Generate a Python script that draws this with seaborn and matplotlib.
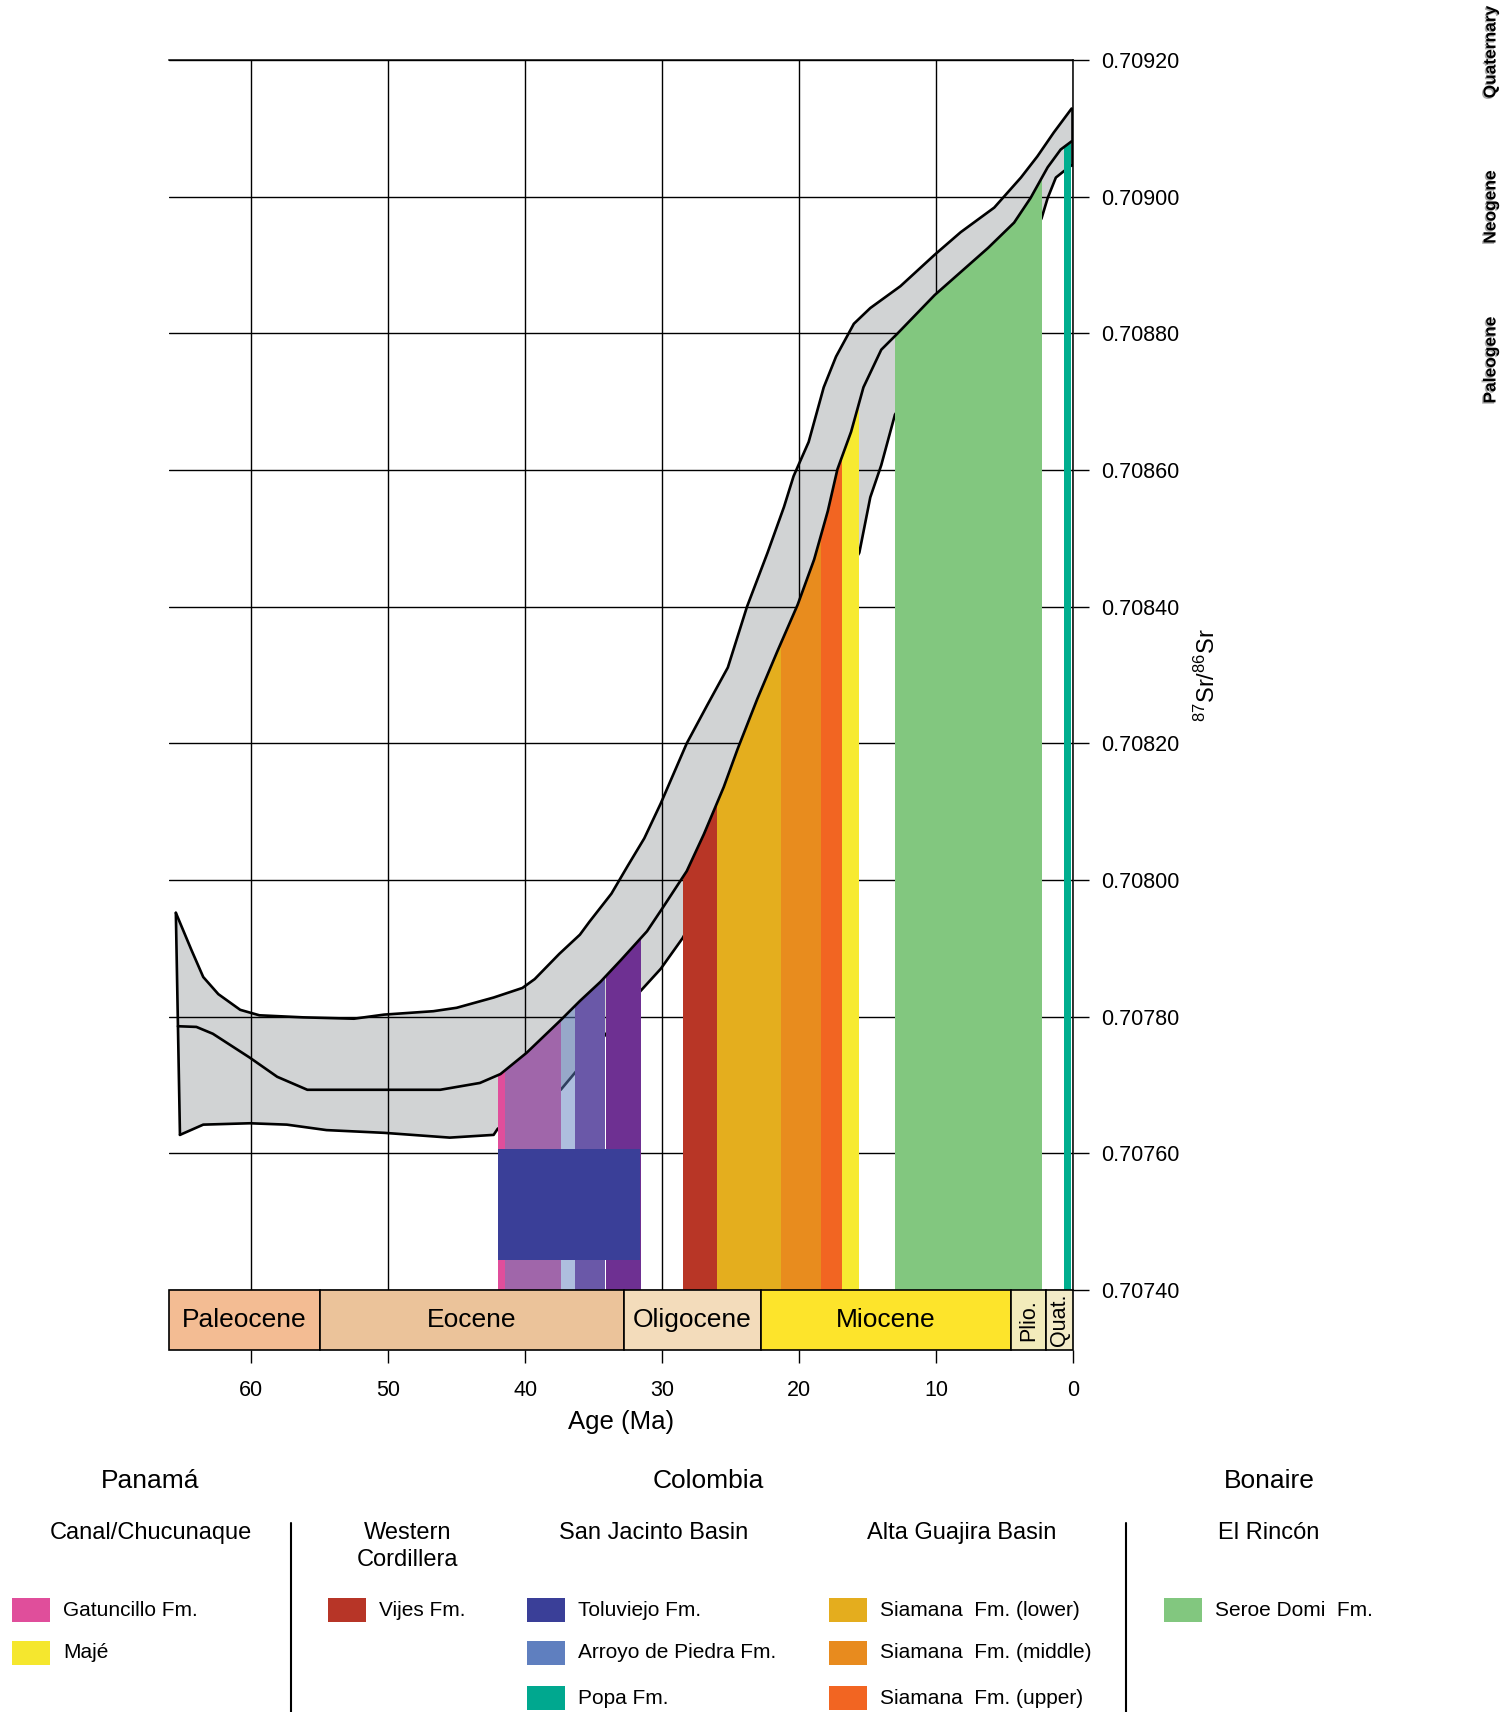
import numpy as np
import matplotlib
matplotlib.use("Agg")
import matplotlib.pyplot as plt
import matplotlib.patheffects as pe
from matplotlib.patches import Polygon, Rectangle
from matplotlib.lines import Line2D
import seaborn as sns

# ---------------------------------------------------------------
# Seawater 87Sr/86Sr envelope through the Cenozoic (age in Ma)
# ---------------------------------------------------------------
upper_age = [65.5, 64.35, 63.5, 62.4, 60.8, 59.4, 56.2, 52.5, 50.3, 46.7, 45.0,
             42.3, 40.2, 39.3, 37.5, 36.0, 35.3, 33.7, 32.5, 31.3, 30.1, 28.2,
             26.7, 25.2, 23.8, 22.3, 21.1, 20.4, 19.3, 18.2, 17.3, 16.0, 14.8,
             12.6, 10.1, 8.2, 5.75, 3.8, 2.6, 1.4, 0.1]
upper_sr = [0.707952, 0.707897, 0.707858, 0.707833, 0.707810, 0.707802, 0.707799,
            0.707797, 0.707803, 0.707808, 0.707813, 0.707828, 0.707842, 0.707855,
            0.707892, 0.707920, 0.707939, 0.707980, 0.708021, 0.708061, 0.708112,
            0.708200, 0.708256, 0.708311, 0.708400, 0.708479, 0.708546, 0.708591,
            0.708641, 0.708721, 0.708766, 0.708814, 0.708837, 0.708869, 0.708915,
            0.708948, 0.708984, 0.709028, 0.709059, 0.709094, 0.709129]

mid_age = [65.35, 64.0, 62.8, 60.1, 58.1, 55.9, 50.3, 46.2, 43.3, 41.8, 39.9,
           37.4, 36.0, 34.5, 33.0, 31.1, 29.9, 28.2, 26.95, 25.5, 24.5, 23.05,
           21.6, 20.1, 18.9, 17.9, 17.2, 16.2, 15.3, 14.0, 12.8, 10.1, 6.2, 4.3,
           3.1, 1.85, 0.9, 0.1]
mid_sr = [0.707786, 0.707785, 0.707775, 0.707740, 0.707712, 0.707693, 0.707693,
          0.707693, 0.707703, 0.707716, 0.707747, 0.707795, 0.707823, 0.707851,
          0.707883, 0.707925, 0.707961, 0.708013, 0.708067, 0.708136, 0.708191,
          0.708265, 0.708334, 0.708403, 0.708469, 0.708540, 0.708601, 0.708656,
          0.708721, 0.708776, 0.708800, 0.708856, 0.708925, 0.708962, 0.708998,
          0.709043, 0.709069, 0.709081]

lower_age = [65.2, 63.5, 60.1, 57.4, 54.5, 50.3, 45.5, 42.3, 42.0, 37.4, 36.4,
             31.6, 30.1, 28.5, 27.0, 25.0, 23.0, 21.0, 19.0, 17.0, 15.6, 14.8,
             14.0, 13.0, 11.0, 9.0, 7.0, 5.0, 3.5, 2.3, 1.85, 1.25, 0.75, 0.1]
lower_sr = [0.707627, 0.707642, 0.707644, 0.707642, 0.707634, 0.707630, 0.707623,
            0.707627, 0.707636, 0.707693, 0.707717, 0.707837, 0.707870, 0.707915,
            0.707970, 0.708040, 0.708140, 0.708240, 0.708340, 0.708430, 0.708479,
            0.708560, 0.708607, 0.708681, 0.708740, 0.708790, 0.708840, 0.708890,
            0.708930, 0.708968, 0.708998, 0.709028, 0.709036, 0.709046]

# ---------------------------------------------------------------
# Formation age ranges (old, young in Ma) projected onto the curve
# ---------------------------------------------------------------
unit_names = ["Gatuncillo", "Gatuncillo/Toluviejo", "Arroyo de Piedra",
              "Arroyo de Piedra/Toluviejo", "Toluviejo (upper)", "Vijes",
              "Siamana lower", "Siamana middle", "Siamana upper", "Majé",
              "Seroe Domi", "Popa"]
unit_old = [42.0, 41.5, 37.4, 36.37, 34.1, 28.5, 26.0, 21.3, 18.4, 16.9, 13.0, 0.69]
unit_young = [41.5, 37.4, 36.37, 34.2, 31.55, 26.0, 21.3, 18.4, 16.9, 15.6, 2.23, 0.11]
unit_colors = ["#E04E9B", "#A066AA", "#5F7FBF", "#6A58A8", "#6E3092", "#B83626",
               "#E4AE1E", "#E88C1E", "#F26522", "#F7EA31", "#82C77F", "#00AE8F"]
unit_alpha = [1, 1, 0.5, 1, 1, 1, 1, 1, 1, 1, 1, 1]

# Toluviejo Fm. measured range (age x Sr ratio)
toluviejo_age = [41.96, 31.58]
toluviejo_sr = [0.707444, 0.707606]

# Geological time scale
epoch_names = ["Paleocene", "Eocene", "Oligocene", "Miocene", "Plio.", "Quat."]
epoch_old = [66.0, 55.0, 32.8, 22.8, 4.5, 2.0]
epoch_young = [55.0, 32.8, 22.8, 4.5, 2.0, 0.0]
epoch_colors = ["#F3BC93", "#EBC39A", "#F3DCBB", "#FDE42B", "#F2EBBB", "#F3EBC8"]
epoch_rot = [0, 0, 0, 0, 90, 90]

period_names = ["Quaternary", "Neogene", "Paleogene"]
period_y = [52, 207, 360]

sr_ticks = [0.70740, 0.70760, 0.70780, 0.70800, 0.70820, 0.70840,
            0.70860, 0.70880, 0.70900, 0.70920]
age_ticks = [60, 50, 40, 30, 20, 10, 0]

# Legend content
region_titles = ["Panamá", "Colombia", "Bonaire"]
region_x = [150, 708, 1269]
basin_titles = [["Canal/Chucunaque"], ["Western", "Cordillera"], ["San Jacinto Basin"],
                ["Alta Guajira Basin"], ["El Rincón"]]
basin_x = [151, 408, 654, 962, 1269]
legend_cols = [
    [("Gatuncillo Fm.", "#E04E9B"), ("Majé", "#F5E72E")],
    [("Vijes Fm.", "#B73527")],
    [("Toluviejo Fm.", "#3A3F98"), ("Arroyo de Piedra Fm.", "#5F7FBF"), ("Popa Fm.", "#00A88F")],
    [("Siamana  Fm. (lower)", "#E4AD1E"), ("Siamana  Fm. (middle)", "#E88B1E"),
     ("Siamana  Fm. (upper)", "#F26522")],
    [("Seroe Domi  Fm.", "#82C77F")],
]
legend_col_x = [12, 328, 527, 829, 1164]
legend_row_y = [1610, 1653, 1698]
separator_x = [290.5, 1126]

# ---------------------------------------------------------------
sns.set_theme(style="white")
plt.rcParams["font.family"] = ["Liberation Sans", "DejaVu Sans"]
plt.rcParams["mathtext.default"] = "regular"
for k in ["text.color", "axes.labelcolor", "xtick.color", "ytick.color", "axes.edgecolor"]:
    plt.rcParams[k] = "black"

W, H = 1508, 1712
fig = plt.figure(figsize=(W / 100, H / 100), dpi=100, facecolor="white")


def fx(px):
    return px / W


def fy(py):
    return 1 - py / H


ax = fig.add_axes([fx(169), fy(1290), fx(1073) - fx(169), fy(60) - fy(1290)])
ax_ep = fig.add_axes([fx(169), fy(1350), fx(1073) - fx(169), fy(1290) - fy(1350)], sharex=ax)

ax.set_xlim(66, 0)
ax.set_ylim(sr_ticks[0], sr_ticks[-1])

# grey envelope between upper and lower bounds
env_x = upper_age + lower_age[::-1]
env_y = upper_sr + lower_sr[::-1]
ax.fill(env_x, env_y, color="#D1D3D4", lw=0, zorder=1)

line_kw = dict(color="black", linewidth=1.9, sort=False, estimator=None, ax=ax)
sns.lineplot(x=lower_age, y=lower_sr, zorder=1.6, **line_kw)
ax.plot([upper_age[0], lower_age[0]], [upper_sr[0], lower_sr[0]], color="black", lw=1.9, zorder=1.6)

# formation bars under the central curve
clip_poly = Polygon(np.column_stack([mid_age + [mid_age[-1], mid_age[0]],
                                     mid_sr + [sr_ticks[0], sr_ticks[0]]]),
                    closed=True, transform=ax.transData)
base = sr_ticks[0]
span = sr_ticks[-1] - sr_ticks[0]
for old, young, col, a in zip(unit_old, unit_young, unit_colors, unit_alpha):
    bars = ax.bar(x=(old + young) / 2, height=span, width=old - young, bottom=base,
                  color=col, alpha=a, linewidth=0, zorder=2)
    for p in bars.patches:
        p.set_clip_path(clip_poly)

ax.bar(x=np.mean(toluviejo_age), height=toluviejo_sr[1] - toluviejo_sr[0],
       width=toluviejo_age[0] - toluviejo_age[1], bottom=toluviejo_sr[0],
       color="#3A3F98", linewidth=0, zorder=2.2)

sns.lineplot(x=mid_age, y=mid_sr, zorder=3, **line_kw)
sns.lineplot(x=upper_age, y=upper_sr, zorder=3, **line_kw)
ax.plot([upper_age[-1], lower_age[-1]], [upper_sr[-1], lower_sr[-1]], color="black", lw=1.9, zorder=3)

# grid, ticks and spines
ax.set_yticks(sr_ticks)
ax.set_yticklabels([f"{v:.5f}" for v in sr_ticks])
ax.set_xticks(age_ticks)
ax.grid(True, color="black", linewidth=1.0)
ax.set_axisbelow("line")
ax.yaxis.tick_right()
ax.tick_params(axis="y", right=True, left=False, direction="out", length=11.5,
               width=1.0, pad=9, labelsize=15.5)
ax.tick_params(axis="x", bottom=False, labelbottom=False, top=False)
for s in ["left", "bottom"]:
    ax.spines[s].set_visible(False)
for s in ["top", "right"]:
    ax.spines[s].set_color("black")
    ax.spines[s].set_linewidth(1.1)
ax.set_xlabel("")
ax.set_ylabel("")

# epoch strip
ax_ep.set_ylim(0, 1)
for name, old, young, col, rot in zip(epoch_names, epoch_old, epoch_young, epoch_colors, epoch_rot):
    ax_ep.bar(x=(old + young) / 2, height=1, width=old - young, bottom=0, color=col,
              edgecolor="black", linewidth=1.2, clip_on=False)
    ax_ep.text((old + young) / 2, 0.5, name, ha="center", va="center",
               rotation=rot, fontsize=19 if rot == 0 else 15.5)
for s in ax_ep.spines.values():
    s.set_visible(False)
ax_ep.set_yticks([])
ax_ep.set_xticks(age_ticks)
ax_ep.set_xticklabels([str(a) for a in age_ticks])
ax_ep.tick_params(axis="x", bottom=True, direction="out", length=9.5, width=1.0,
                  pad=12, labelsize=15.5)
ax_ep.set_facecolor("none")

fig.text(fx(621), fy(1422), "Age (Ma)", ha="center", va="center", fontsize=18.5)
fig.text(fx(1207), fy(675), r"$^{87}$Sr/$^{86}$Sr", rotation=90, ha="center",
         va="center", fontsize=17)

for name, py in zip(period_names, period_y):
    fig.text(fx(1491), fy(py), name, rotation=90, ha="center", va="center",
             fontsize=12.5, fontweight="bold",
             path_effects=[pe.withSimplePatchShadow(offset=(-1, -1), shadow_rgbFace="0.45", alpha=0.6)])

# legend block
for t, x in zip(region_titles, region_x):
    fig.text(fx(x), fy(1481), t, ha="center", va="center", fontsize=19)
for lines, x in zip(basin_titles, basin_x):
    for i, t in enumerate(lines):
        fig.text(fx(x), fy(1533 + 27 * i), t, ha="center", va="center", fontsize=17)
for col, x in zip(legend_cols, legend_col_x):
    for (label, c), y in zip(col, legend_row_y):
        fig.add_artist(Rectangle((fx(x), fy(y + 12)), fx(38), 24 / H, transform=fig.transFigure,
                                 facecolor=c, edgecolor="none"))
        fig.text(fx(x + 51), fy(y), label, ha="left", va="center", fontsize=15)
for x in separator_x:
    fig.add_artist(Line2D([fx(x), fx(x)], [fy(1523), fy(1712)], transform=fig.transFigure,
                          color="black", linewidth=1.5))

fig.savefig("out.png", dpi=100, facecolor="white")
